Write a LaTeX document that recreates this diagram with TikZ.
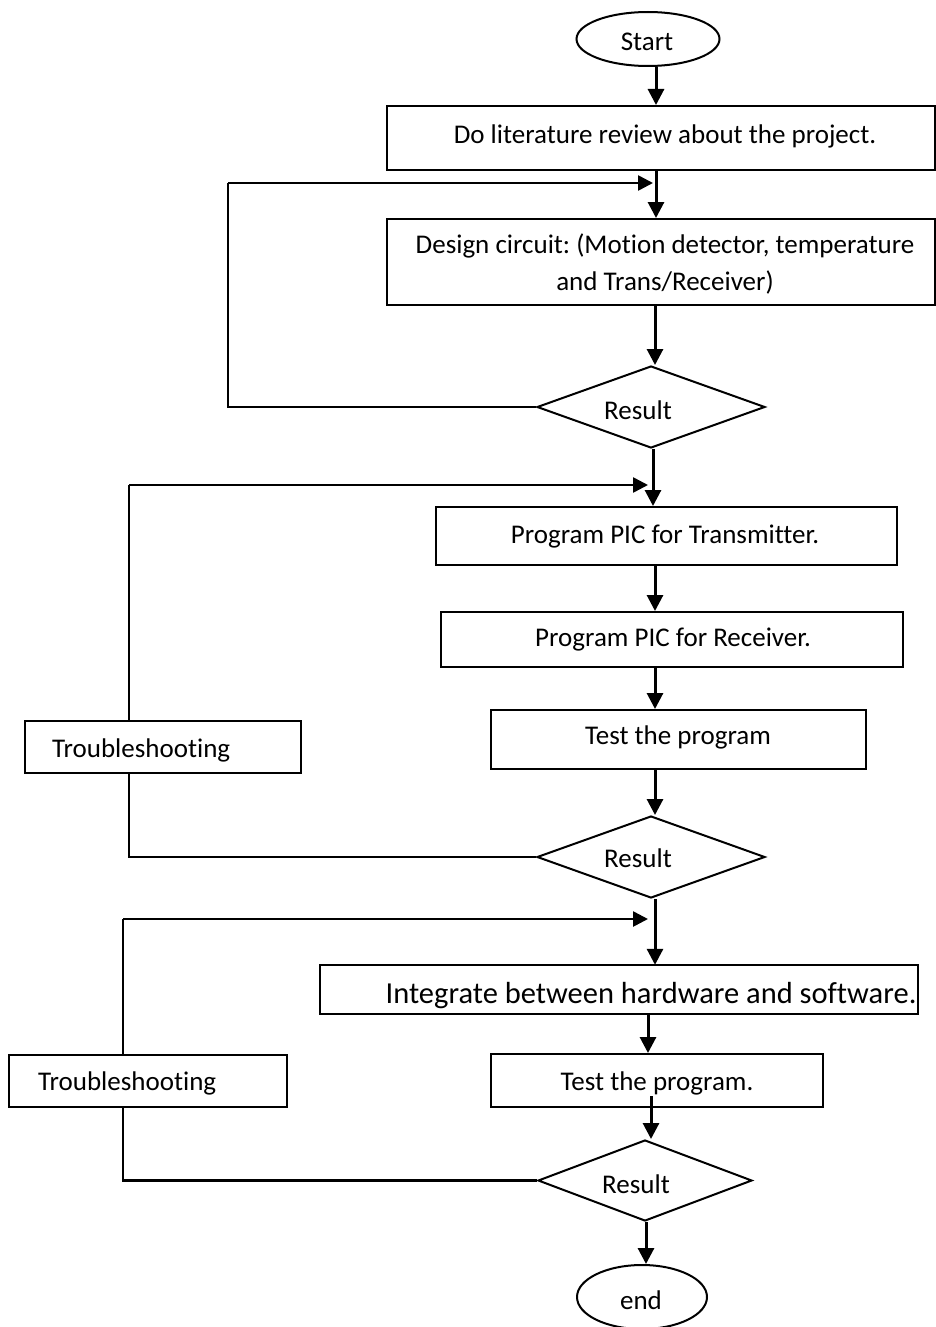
\documentclass[tikz,border=0pt]{standalone}
\usepackage{fontspec}
\setmainfont{Carlito}[Ligatures={NoCommon}]
\usetikzlibrary{shapes.geometric,arrows.meta}
\frenchspacing
\begin{document}
\begin{tikzpicture}[x=1pt,y=-1pt,
  every node/.style={font=\fontsize{27}{37}\selectfont, inner sep=0pt},
  box/.style={draw, line width=2pt, rectangle},
  oval/.style={draw, line width=2pt, ellipse},
  dec/.style={draw, line width=2pt, diamond, aspect=2.78},
  arr/.style={line width=3pt, -{Triangle[length=16pt,width=16pt]}},
  harr/.style={line width=2.6pt, -{Triangle[length=15pt,width=15pt]}},
  fb/.style={line width=2.6pt}]
\useasboundingbox (0,0) rectangle (936,1327);
\fill[white] (0,0) rectangle (936,1327);

% nodes
\node[oval, minimum width=143, minimum height=54] (start) at (648,39) {};
\node (tstart) at (647,42) {Start};
\node[box, minimum width=548, minimum height=64] (b1) at (661,138) {};
\node (tb1) at (665,136) {Do literature review about the project.};
\node[box, minimum width=548, minimum height=86] (b2) at (661,262) {};
\node[align=center] (tb2) at (665,264) {Design circuit: (Motion detector, temperature\\and Trans/Receiver)};
\node[dec, minimum width=228, minimum height=82] (d1) at (651,407) {};
\node (td1) at (638,410) {Result};
\node[box, minimum width=461, minimum height=58] (b3) at (666.5,536) {};
\node (tb3) at (665,537) {Program PIC for Transmitter.};
\node[box, minimum width=462, minimum height=55] (b4) at (672,639.5) {};
\node (tb4) at (673,640) {Program PIC for Receiver.};
\node[box, minimum width=375, minimum height=59] (b5) at (678.5,739.5) {};
\node (tb5) at (678,737) {Test the program};
\node[dec, minimum width=228, minimum height=82] (d2) at (651,857) {};
\node (td2) at (638,858) {Result};
\node[box, minimum width=276, minimum height=52] (t1) at (163,747) {};
\node[anchor=west] (tt1) at (52,750) {Troubleshooting};
\node[rectangle, minimum width=598, minimum height=49] (b6) at (619,989.5) {};
\begin{scope}
  \clip (b6.south west) rectangle (b6.north east);
  \node[font=\fontsize{30.5}{37}\selectfont] (tb6) at (651,996) {Integrate between hardware and software.};
\end{scope}
\draw[line width=2pt] (b6.south west) rectangle (b6.north east);
\node[box, minimum width=332, minimum height=53] (b7) at (657,1080.5) {};
\node (tb7) at (657,1083) {Test the program.};
\node[box, minimum width=278, minimum height=52] (t2) at (148,1081) {};
\node[anchor=west] (tt2) at (38,1083) {Troubleshooting};
\node[dec, minimum width=214, minimum height=81] (d3) at (645,1180.5) {};
\node (td3) at (636,1184) {Result};
\node[oval, minimum width=130, minimum height=64] (end) at (642,1297) {};
\node (tend) at (641,1300) {end};

% helper columns
\coordinate (c656) at (656,0);
\coordinate (c655) at (655,0);
\coordinate (c653) at (653,0);
\coordinate (c648) at (648,0);
\coordinate (c651) at (651,0);
\coordinate (c646) at (646,0);
\coordinate (c228) at (228,0);
\coordinate (c129) at (129,0);
\coordinate (c123) at (123,0);
\coordinate (r183) at (0,183);
\coordinate (r485) at (0,485);
\coordinate (r919) at (0,919);
\coordinate (r1096) at (0,1096);

% main flow
\draw[arr] (c656 |- start.south) -- (c656 |- b1.north);
\draw[arr] (c656 |- b1.south) -- (c656 |- b2.north);
\draw[arr] (c655 |- b2.south) -- (c655 |- d1.north);
\draw[arr] (c653 |- d1.south) -- (c653 |- b3.north);
\draw[arr] (c655 |- b3.south) -- (c655 |- b4.north);
\draw[arr] (c655 |- b4.south) -- (c655 |- b5.north);
\draw[arr] (c655 |- b5.south) -- (c655 |- d2.north);
\draw[arr] (c655 |- d2.south) -- (c655 |- b6.north);
\draw[arr] (c648 |- b6.south) -- (c648 |- b7.north);
\draw[arr] (c651 |- r1096) -- (c651 |- d3.north);
\draw[arr] (c646 |- d3.south) -- (c646 |- end.north);

% feedback loops
\draw[fb] (d1.west) -- (c228 |- d1.west) -- (c228 |- r183);
\draw[harr] (c228 |- r183) -- (c653 |- r183);

\draw[fb] (d2.west) -- (c129 |- d2.west) -- (c129 |- t1.south);
\draw[fb] (c129 |- t1.north) -- (c129 |- r485);
\draw[harr] (c129 |- r485) -- (c648 |- r485);

\draw[fb] (d3.west) -- (c123 |- d3.west) -- (c123 |- t2.south);
\draw[fb] (c123 |- t2.north) -- (c123 |- r919);
\draw[harr] (c123 |- r919) -- (c648 |- r919);
\end{tikzpicture}
\end{document}
